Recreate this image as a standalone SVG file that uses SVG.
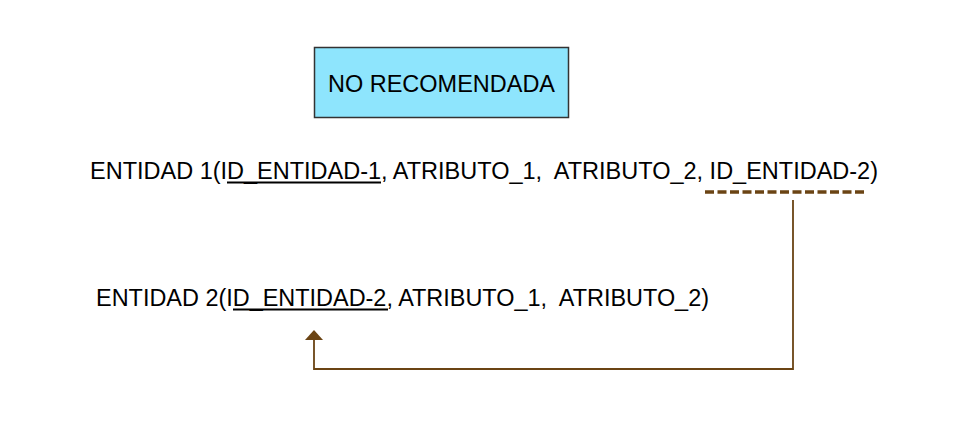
<svg xmlns="http://www.w3.org/2000/svg" width="965" height="432" viewBox="0 0 965 432">
<style>
text{font-family:"Liberation Sans",Arial,sans-serif;font-size:23.5px;fill:#000}
.ul{stroke:#000;stroke-width:2}
.conn{stroke:#6b4414;stroke-width:1.8;fill:none}
</style>
<defs>
<marker id="arr" markerWidth="12" markerHeight="20" refX="0" refY="9" orient="auto" markerUnits="userSpaceOnUse"><path d="M0,0 L10,9 L0,18 z" fill="#6b4414"/></marker>
</defs>
<rect width="965" height="432" fill="#fff"/>
<g id="node-norecomendada">
<rect x="314.5" y="47.5" width="254" height="70" fill="#8ee5fd" stroke="#333" stroke-width="1.5"/>
<text x="328" y="92" textLength="227" lengthAdjust="spacingAndGlyphs">NO RECOMENDADA</text>
</g>
<g id="node-entidad1">
<text x="90" y="179" xml:space="preserve" textLength="788" lengthAdjust="spacingAndGlyphs">ENTIDAD 1(ID_ENTIDAD-1, ATRIBUTO_1,  ATRIBUTO_2, ID_ENTIDAD-2)</text>
<line class="ul" x1="227" y1="182.5" x2="381" y2="182.5"/>
<line x1="705" y1="192" x2="867" y2="192" stroke="#6b4414" stroke-width="3.5" stroke-dasharray="9,3.5"/>
</g>
<g id="node-entidad2">
<text x="96" y="306" xml:space="preserve" textLength="613" lengthAdjust="spacingAndGlyphs">ENTIDAD 2(ID_ENTIDAD-2, ATRIBUTO_1,  ATRIBUTO_2)</text>
<line class="ul" x1="233" y1="309.5" x2="388" y2="309.5"/>
</g>
<g id="connectors">
<path class="conn" d="M793,200 V369 H314 V340" marker-end="url(#arr)"/>
</g>
</svg>
